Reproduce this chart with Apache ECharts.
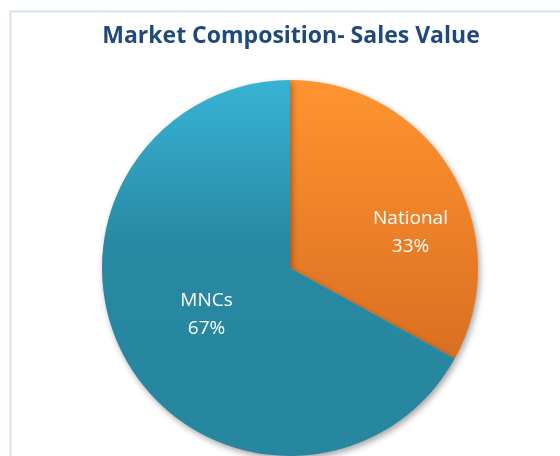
<!DOCTYPE html>
<html>
<head>
<meta charset="utf-8">
<script src="https://cdn.jsdelivr.net/npm/echarts@6/dist/echarts.min.js"></script>
<style>
html, body { margin: 0; padding: 0; background: #fff; }
#chart { width: 560px; height: 456px; }
</style>
</head>
<body>
<div id="chart"></div>
<script>
var categories = ['National', 'MNCs'];
var shares = [33, 67];

var sliceColors = [
	// National: orange, darker at the bottom
	new echarts.graphic.LinearGradient(0, 0, 0, 1, [
		{ offset: 0, color: '#FF9430' },
		{ offset: 1, color: '#DA6F22' }
	]),
	// MNCs: light teal at the top fading to deep teal
	new echarts.graphic.LinearGradient(0, 0, 0, 1, [
		{ offset: 0, color: '#38B3D4' },
		{ offset: 0.45, color: '#2888A2' },
		{ offset: 1, color: '#27869F' }
	])
];

var pieData = [];
for (var i = 0; i < categories.length; i++) {
	pieData.push({
		name: categories[i],
		value: shares[i],
		itemStyle: { color: sliceColors[i] }
	});
}

var chart = echarts.init(document.getElementById('chart'));

var option = {
	animation: false,
	title: {
		text: 'Market Composition- Sales Value',
		left: 286,
		top: 20,
		textAlign: 'center',
		textStyle: {
			fontFamily: 'Open Sans',
			fontSize: 23,
			fontWeight: 'bold',
			color: '#1F497D'
		}
	},
	graphic: [{
		type: 'rect',
		shape: { x: 10.5, y: 11.5, width: 600, height: 500 },
		style: { fill: 'none', stroke: '#D6E2F1', lineWidth: 2 },
		silent: true,
		z: -1
	}],
	series: [{
		type: 'pie',
		center: [290, 268],
		radius: 188,
		startAngle: 90,
		clockwise: true,
		data: pieData,
		itemStyle: {
			borderWidth: 0,
			shadowBlur: 6,
			shadowOffsetX: 2,
			shadowOffsetY: 3,
			shadowColor: 'rgba(0,0,0,0.35)'
		},
		label: {
			show: true,
			position: 'inside',
			formatter: '{b}\n{d}%',
			color: '#ffffff',
			fontFamily: 'Open Sans',
			fontSize: 19,
			lineHeight: 28
		},
		labelLayout: function (params) {
			if (params.dataIndex === 0) {
				return { dx: 37, dy: 14 };
			}
			return { dy: -3 };
		},
		labelLine: { show: false },
		emphasis: { disabled: true }
	}]
};

chart.setOption(option);
</script>
</body>
</html>
